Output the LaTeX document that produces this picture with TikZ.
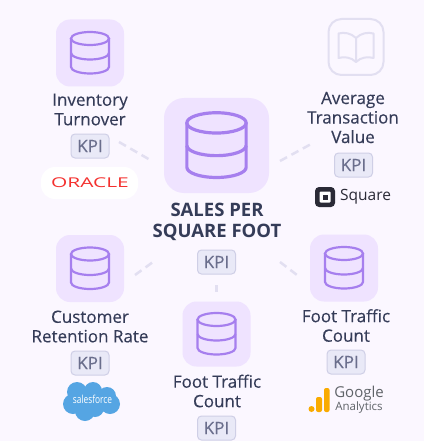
\documentclass[tikz,border=0pt]{standalone}
\usepackage{fontspec}
\setmainfont{Open Sans}
\newfontfamily\labelfont[FakeBold=0.25]{Open Sans}
\definecolor{pagebg}{HTML}{FBF7FF}
\definecolor{tilefill}{HTML}{EFE3FF}
\definecolor{iconline}{HTML}{A67FEE}
\definecolor{inkdark}{HTML}{353C58}
\definecolor{kpifill}{HTML}{E9E9F7}
\definecolor{kpiline}{HTML}{CFCFE6}
\definecolor{kpiink}{HTML}{6A6E8C}
\definecolor{linkgray}{HTML}{E2DFF1}
\definecolor{oraclered}{HTML}{F4302E}
\definecolor{cloudblue}{HTML}{55A5E3}
\definecolor{gaorange}{HTML}{F9AB00}
\definecolor{gagray}{HTML}{5F6368}
\definecolor{squareink}{HTML}{2A2A36}
\tikzset{
  tilebox/.style={fill=tilefill, rounded corners=14pt, minimum width=68pt, minimum height=67pt, inner sep=0pt},
  kpibox/.style={draw=kpiline, fill=kpifill, line width=1pt, rounded corners=4pt, minimum width=38pt, minimum height=24pt,
    inner sep=0pt, text=kpiink, font=\labelfont\fontsize{17}{17}\selectfont},
  kpilabel/.style={align=center, text=inkdark, inner sep=0pt, font=\labelfont\fontsize{17}{19.5}\selectfont},
  linkline/.style={draw=linkgray, line width=2.5pt, dash pattern=on 8pt off 5pt},
  dbicon/.pic={
    \draw (0,-14.5) ellipse [x radius=19, y radius=6.5];
    \draw (-19,-14.5) -- (-19,14) arc [start angle=180, end angle=0, x radius=19, y radius=6.5] -- (19,-14.5);
    \draw (-19,0) arc [start angle=180, end angle=0, x radius=19, y radius=6.5];
  }
}
\begin{document}
\begin{tikzpicture}[x=1pt, y=-1pt]
    \useasboundingbox (0,0) rectangle (424,441);
    \fill[pagebg] (0,0) rectangle (424,441);

    % Centre
    \node[tilebox, minimum width=105pt, minimum height=95pt, rounded corners=20pt] (hubtile) at (216.5,145.5) {};
    \pic[draw=iconline, line width=3.2pt, scale=1.56] at (216.5,145.5) {dbicon};
    \node[kpilabel, font=\fontsize{18.5}{21}\selectfont\bfseries] (hublabel) at (217,222) {SALES PER\\SQUARE FOOT};
    \node[kpibox] (hubkpi) at (216.5,262) {KPI};

    % Inventory Turnover
    \node[tilebox] (invtile) at (90,53) {};
    \pic[draw=iconline, line width=2.2pt] at (90,53) {dbicon};
    \node[kpilabel] (invlabel) at (90,109.5) {Inventory\\Turnover};
    \node[kpibox] (invkpi) at (90,146) {KPI};
    \node[fill=white, rounded corners=14pt, minimum width=97pt, minimum height=32pt, inner sep=0pt] (oraclepill) at (89.5,183) {};
    \node[text=oraclered, xscale=1.55, inner sep=0pt, font=\fontsize{13.5}{14}\selectfont] (oraclelogo) at (90,182.5) {ORACLE};

    % Average Transaction Value
    \node[draw=linkgray, line width=2pt, rounded corners=13pt, minimum width=55pt, minimum height=56pt, inner sep=0pt] (avgtile) at (356,47) {};
    \draw[linkgray, line width=2pt, line join=round] (356,38) .. controls (351,33) and (344,32) .. (338.5,33.5) -- (338.5,58)
        .. controls (344,56.5) and (351,57) .. (356,62) .. controls (361,57) and (368,56.5) .. (373.5,58) -- (373.5,33.5)
        .. controls (368,32) and (361,33) .. (356,38) -- (356,62);
    \node[kpilabel] (avglabel) at (353,117.5) {Average\\Transaction\\Value};
    \node[kpibox] (avgkpi) at (353.5,165) {KPI};
    \node[fill=squareink, rounded corners=4pt, minimum size=20pt, inner sep=0pt] (squaremark) at (325,197) {};
    \node[fill=white, rounded corners=1pt, minimum size=11pt, inner sep=0pt] (squarering) at (325,197) {};
    \node[fill=squareink, minimum size=5pt, inner sep=0pt] (squaredot) at (325,197) {};
    \node[text=squareink, inner sep=0pt, anchor=west, font=\fontsize{15.5}{16}\selectfont] (squarename) at (340,197) {Square};

    % Customer Retention Rate
    \node[tilebox] (custile) at (90,268.5) {};
    \pic[draw=iconline, line width=2.2pt] at (90,268.5) {dbicon};
    \node[kpilabel] (cuslabel) at (90,326.5) {Customer\\Retention Rate};
    \node[kpibox] (cuskpi) at (90,363) {KPI};
    \fill[cloudblue] (77,392) circle (10) (93,391) circle (9) (107,396) circle (9) (110,404) circle (10)
        (85,411) circle (10) (73,404) circle (10) (95,408) circle (9) (90,401) circle (14);
    \node[text=white, xscale=0.76, inner sep=0pt, font=\fontsize{11}{11}\selectfont] (cloudname) at (92.5,399.5) {salesforce};

    % Foot Traffic Count (bottom)
    \node[tilebox, minimum height=65pt] (foottile) at (216.5,334) {};
    \pic[draw=iconline, line width=2.2pt] at (216.5,334) {dbicon};
    \node[kpilabel] (footlabel) at (217,391) {Foot Traffic\\Count};
    \node[kpibox] (footkpi) at (216.5,428) {KPI};

    % Foot Traffic Count (right)
    \node[tilebox] (righttile) at (344,268) {};
    \pic[draw=iconline, line width=2.2pt] at (344,268) {dbicon};
    \node[kpilabel] (rightlabel) at (346,325.5) {Foot Traffic\\Count};
    \node[kpibox] (rightkpi) at (346,362) {KPI};
    \fill[gaorange, rounded corners=2pt] (324,388) rectangle (329.5,412);
    \fill[gaorange, rounded corners=2pt] (316,397) rectangle (322,412);
    \fill[gaorange] (311.5,409) circle (3);
    \node[text=gagray, inner sep=0pt, font=\fontsize{15}{15}\selectfont] (gagoogle) at (359,394) {Google};
    \node[text=gagray, inner sep=0pt, font=\fontsize{11.5}{12}\selectfont] (ganame) at (359,408) {Analytics};

    % Links
    \coordinate (linkinv) at (119,142);
    \coordinate (linkhubinv) at (152,161);
    \coordinate (linkavg) at (313,143);
    \coordinate (linkhubavg) at (280,161);
    \coordinate (linkcus) at (135,275);
    \coordinate (linkhubcus) at (153,262);
    \coordinate (linkright) at (297,275);
    \coordinate (linkhubright) at (280,262);
    \coordinate (linkfoot) at (216.5,292);
    \coordinate (linkhubfoot) at (216.5,285);
    \draw[linkline] (linkinv) -- (linkhubinv);
    \draw[linkline] (linkhubavg) -- (linkavg);
    \draw[linkline] (linkcus) -- (linkhubcus);
    \draw[linkline] (linkhubright) -- (linkright);
    \draw[linkline] (linkhubfoot) -- (linkfoot);
\end{tikzpicture}
\end{document}
